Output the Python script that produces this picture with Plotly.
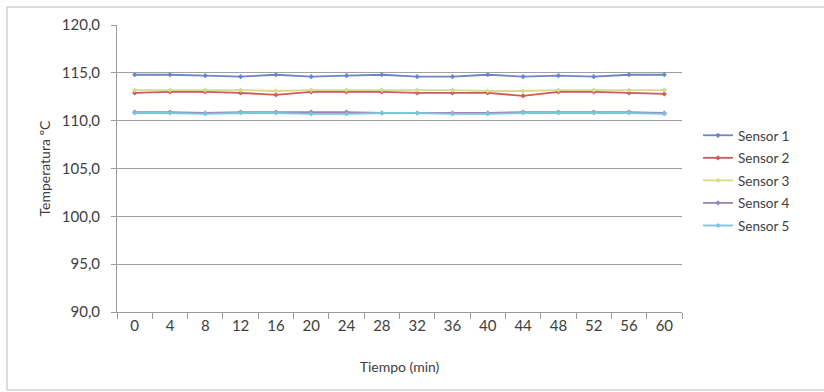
import plotly.graph_objects as go

tiempo = ["0", "4", "8", "12", "16", "20", "24", "28", "32", "36", "40", "44", "48", "52", "56", "60"]
sensor_1 = [114.8, 114.8, 114.7, 114.6, 114.8, 114.6, 114.7, 114.8, 114.6, 114.6, 114.8, 114.6, 114.7, 114.6, 114.8, 114.8]
sensor_2 = [112.9, 113.0, 113.0, 112.9, 112.7, 113.0, 113.0, 113.0, 112.9, 112.9, 112.9, 112.6, 113.0, 113.0, 112.9, 112.8]
sensor_3 = [113.2, 113.2, 113.2, 113.2, 113.1, 113.2, 113.2, 113.2, 113.2, 113.2, 113.1, 113.1, 113.2, 113.2, 113.2, 113.2]
sensor_4 = [110.9, 110.9, 110.8, 110.9, 110.9, 110.9, 110.9, 110.8, 110.8, 110.8, 110.8, 110.9, 110.9, 110.9, 110.9, 110.8]
sensor_5 = [110.8, 110.8, 110.7, 110.8, 110.8, 110.7, 110.7, 110.8, 110.8, 110.7, 110.7, 110.8, 110.8, 110.8, 110.8, 110.7]
names = ["Sensor 1", "Sensor 2", "Sensor 3", "Sensor 4", "Sensor 5"]
colors = ["#6a86c4", "#d0585a", "#d6dc8a", "#9a86b8", "#7cc4da"]
y_ticks = [90, 95, 100, 105, 110, 115, 120]

fig = go.Figure()
for name, vals, col in zip(names, [sensor_1, sensor_2, sensor_3, sensor_4, sensor_5], colors):
    fig.add_trace(go.Scatter(
        x=tiempo, y=vals, name=name, mode="lines+markers", legendgroup=name,
        line=dict(color=col, width=1.8),
        marker=dict(symbol="diamond", size=4, color=col),
    ))

L, R, T, B = 117, 142, 25, 80
pw, ph = 824 - L - R, 392 - T - B

fig.update_layout(
    width=824, height=392,
    margin=dict(l=L, r=R, t=T, b=B),
    paper_bgcolor="white", plot_bgcolor="rgba(0,0,0,0)",
    separators=",.",
    font=dict(family="Lato", size=15, color="#404040"),
    showlegend=True,
    legend=dict(
        x=(698 - L) / pw, y=(312 - 120) / ph, xanchor="left", yanchor="top",
        font=dict(family="Lato", size=13.5, color="#404040"),
        tracegroupgap=2, itemwidth=30, bgcolor="rgba(0,0,0,0)",
    ),
    xaxis=dict(
        type="category", range=[-0.5, 15.5], tickson="boundaries",
        ticks="outside", ticklen=6, tickcolor="#9a9a9a",
        showline=True, linecolor="#9a9a9a", linewidth=1,
        showgrid=False, zeroline=False,
        title=dict(text="Tiempo (min)", font=dict(size=14), standoff=29),
        tickfont=dict(size=15),
    ),
    yaxis=dict(
        range=[90, 120], tickvals=y_ticks, tickformat=".1f",
        ticks="outside", ticklen=5, tickcolor="#9a9a9a",
        showline=True, linecolor="#9a9a9a", linewidth=1,
        showgrid=True, gridcolor="#a0a0a0", gridwidth=1, zeroline=False,
        title=dict(text="Temperatura ºC", font=dict(size=14), standoff=7),
        tickfont=dict(size=15), ticklabelstandoff=8,
    ),
    shapes=[dict(
        type="rect", xref="paper", yref="paper",
        x0=(7 - L) / pw, x1=(830 - L) / pw, y0=(312 - 390) / ph, y1=(312 - 7) / ph,
        line=dict(color="#b8b8b8", width=1), layer="below",
    )],
)

fig.write_html("out.html")
